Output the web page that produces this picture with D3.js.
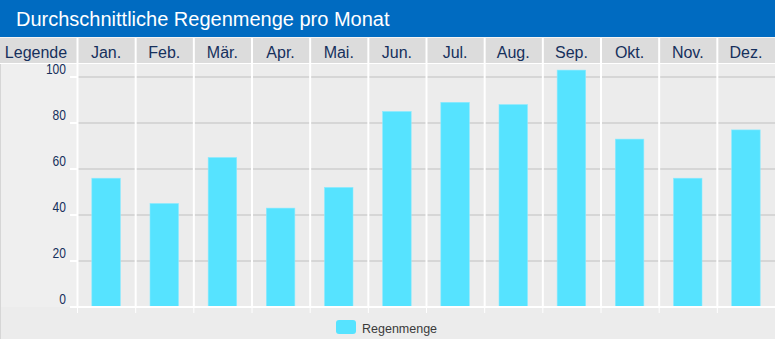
<!DOCTYPE html>
<html>
<head>
<meta charset="utf-8">
<script src="https://cdn.jsdelivr.net/npm/d3@7"></script>
<style>
  html, body { margin: 0; padding: 0; background: #ececec; }
  svg { display: block; font-family: "Liberation Sans", Arial, sans-serif; }
</style>
</head>
<body>
<svg id="chart" width="775" height="339"></svg>
<script>
// Monthly average rainfall
const months = ["Jan.", "Feb.", "Mär.", "Apr.", "Mai.", "Jun.", "Jul.", "Aug.", "Sep.", "Okt.", "Nov.", "Dez."];
const rainfall = [56, 45, 65, 43, 52, 85, 89, 88, 103, 73, 56, 77];
const yTicks = [0, 20, 40, 60, 80, 100];
const seriesName = "Regenmenge";
const titleText = "Durchschnittliche Regenmenge pro Monat";
const legendHeader = "Legende";

const W = 775, H = 339;
const plotLeft = 77, plotRight = 775;
const headerTop = 38, headerBottom = 64;
const axisY = 307;

const svg = d3.select("#chart");

// background
svg.append("rect").attr("width", W).attr("height", H).attr("fill", "#ececec");
svg.append("rect").attr("x", 0).attr("y", headerBottom).attr("width", plotLeft).attr("height", axisY - headerBottom)
  .attr("fill", "#efefef");
svg.append("line").attr("x1", 0.5).attr("x2", 0.5).attr("y1", headerTop).attr("y2", H)
  .attr("stroke", "#d6d6d6");

// scales
const xCol = d3.scaleBand().domain(months).range([plotLeft, plotRight]).padding(0);
const xBar = d3.scaleBand().domain(months).range([plotLeft, plotRight]).paddingInner(0.51).paddingOuter(0.255);
const y = d3.scaleLinear().domain([0, 100]).range([axisY, 77]);

// horizontal grid
svg.append("g").selectAll("line").data(yTicks.filter(t => t > 0)).join("line")
  .attr("x1", plotLeft).attr("x2", plotRight)
  .attr("y1", d => y(d)).attr("y2", d => y(d))
  .attr("stroke", "#cfcfcf").attr("stroke-width", 1.6);

// column separators
svg.append("g").selectAll("line").data(months).join("line")
  .attr("x1", d => xCol(d) + 0.5).attr("x2", d => xCol(d) + 0.5)
  .attr("y1", headerBottom).attr("y2", axisY)
  .attr("stroke", "#ffffff").attr("stroke-width", 2);

// bottom ticks below the axis
svg.append("g").selectAll("line").data(months).join("line")
  .attr("x1", d => xCol(d) + 0.5).attr("x2", d => xCol(d) + 0.5)
  .attr("y1", axisY).attr("y2", axisY + 6)
  .attr("stroke", "#ffffff").attr("stroke-width", 1);

// bars
svg.append("g").selectAll("rect").data(rainfall).join("rect")
  .attr("x", (d, i) => xBar(months[i]))
  .attr("width", xBar.bandwidth())
  .attr("y", d => y(d))
  .attr("height", d => axisY - y(d))
  .attr("fill", "#56e3ff")
  .attr("stroke", "#8aeaff").attr("stroke-width", 0.6);

// x axis baseline
svg.append("line").attr("x1", 70).attr("x2", plotRight).attr("y1", axisY).attr("y2", axisY)
  .attr("stroke", "#ffffff").attr("stroke-width", 2);

// y axis ticks and labels (narrow, tall digits)
const yAxis = svg.append("g");
yAxis.selectAll("line").data(yTicks).join("line")
  .attr("x1", 70).attr("x2", plotLeft)
  .attr("y1", d => y(d)).attr("y2", d => y(d))
  .attr("stroke", "#ffffff").attr("stroke-width", 2);
yAxis.selectAll("text").data(yTicks).join("text")
  .attr("transform", d => `translate(66,${y(d) - 3.5}) scale(0.86,1)`)
  .attr("text-anchor", "end")
  .attr("font-size", 14)
  .attr("fill", "#16305c")
  .text(d => d);

// title bar
svg.append("rect").attr("x", 0).attr("y", 0).attr("width", W).attr("height", 37).attr("fill", "#006bc1");
svg.append("text").attr("x", 16).attr("y", 26)
  .attr("font-size", 20).attr("fill", "#ffffff")
  .text(titleText);

// header row
svg.append("rect").attr("x", 0).attr("y", headerTop).attr("width", W).attr("height", headerBottom - headerTop - 1)
  .attr("fill", "#dcdcdc");
svg.append("line").attr("x1", 0).attr("x2", W).attr("y1", 37.5).attr("y2", 37.5).attr("stroke", "#f4f4f4");
svg.append("line").attr("x1", 0).attr("x2", W).attr("y1", headerBottom - 0.5).attr("y2", headerBottom - 0.5)
  .attr("stroke", "#ffffff");
svg.append("g").selectAll("line").data(months).join("line")
  .attr("x1", d => xCol(d) + 0.5).attr("x2", d => xCol(d) + 0.5)
  .attr("y1", headerTop).attr("y2", headerBottom)
  .attr("stroke", "#ffffff").attr("stroke-width", 2);
svg.append("text").attr("x", 36).attr("y", 57.5).attr("text-anchor", "middle")
  .attr("font-size", 16).attr("fill", "#16305c").text(legendHeader);
svg.append("g").selectAll("text").data(months).join("text")
  .attr("x", d => xCol(d) + xCol.bandwidth() / 2)
  .attr("y", 57.5)
  .attr("text-anchor", "middle")
  .attr("font-size", 16).attr("fill", "#16305c")
  .text(d => d);

// legend
const legend = svg.append("g").attr("transform", "translate(336,320)");
legend.append("rect").attr("width", 20).attr("height", 14).attr("rx", 3).attr("fill", "#56e3ff");
legend.append("text").attr("x", 26).attr("y", 13).attr("font-size", 12.5).attr("fill", "#3a3a3a").text(seriesName);
</script>
</body>
</html>
